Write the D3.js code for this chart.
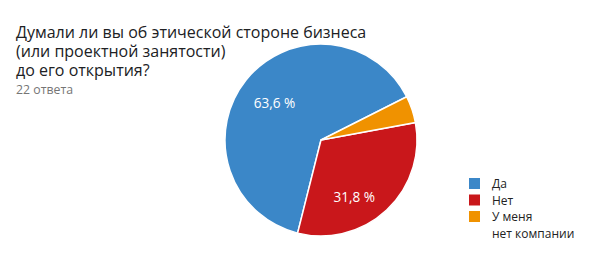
<!DOCTYPE html>
<html><head><meta charset="utf-8">
<script src="https://cdn.jsdelivr.net/npm/d3@7"></script>
<style>body{margin:0;background:#fff;font-family:"Open Sans","Noto Sans",sans-serif}</style>
</head><body>
<script>
const categories = ["Да", "Нет", "У меня нет компании"];
const counts = [14, 7, 1];
const labels = ["63,6 %", "31,8 %", ""];
const colors = ["#3b87c8", "#c9171b", "#f09200"];
const legendLines = [["Да"], ["Нет"], ["У меня", "нет компании"]];
const titleLines = ["Думали ли вы об этической стороне бизнеса", "(или проектной занятости)", "до его открытия?"];
const subtitle = "22 ответа";

const W = 591, H = 258;
const svg = d3.select("body").append("svg").attr("width", W).attr("height", H);
svg.append("rect").attr("width", W).attr("height", H).attr("fill", "#fff");

const t = svg.append("text").attr("x", 16).attr("y", 38)
  .attr("font-size", 16).attr("fill", "#202124");
t.selectAll("tspan").data(titleLines).join("tspan")
  .attr("x", 16).attr("dy", (d, i) => i === 0 ? 0 : 19).text(d => d);
svg.append("text").attr("x", 16).attr("y", 93.5).attr("font-size", 12.3).attr("fill", "#757575").text(subtitle);

const cx = 321, cy = 140, r = 96;
const start = 63.2 * Math.PI / 180;
const pie = d3.pie().sort(null).startAngle(start).endAngle(start - 2 * Math.PI);
const arcs = pie(counts);
const arc = d3.arc().innerRadius(0).outerRadius(r);
const g = svg.append("g").attr("transform", `translate(${cx},${cy})`);
g.selectAll("path").data(arcs).join("path")
  .attr("d", arc).attr("fill", (d, i) => colors[i])
  .attr("stroke", "#fff").attr("stroke-width", 1.5);

// label placement: mid-angle, nudged like the original renderer
const labelPos = (d, i) => {
  let a = (d.startAngle + d.endAngle) / 2;
  let rr = r * 0.62;
  if (i === 1) { a += 13 * Math.PI / 180; rr = r * 0.69; }
  return [rr * Math.sin(a), -rr * Math.cos(a)];
};
g.selectAll("text").data(arcs).join("text")
  .attr("transform", (d, i) => `translate(${labelPos(d, i)})`)
  .attr("text-anchor", "middle").attr("dy", "0.36em")
  .attr("font-size", 13.6).attr("fill", "#fff")
  .text((d, i) => labels[i]);

const leg = svg.append("g");
const rowY = [183.5, 200, 216.5];
categories.forEach((c, i) => {
  leg.append("rect").attr("x", 469).attr("y", rowY[i] - 5.5).attr("width", 11).attr("height", 11).attr("fill", colors[i]);
  const tx = leg.append("text").attr("x", 492).attr("y", rowY[i] + 4.5)
    .attr("font-size", 12).attr("fill", "#222");
  tx.selectAll("tspan").data(legendLines[i]).join("tspan")
    .attr("x", 492).attr("dy", (d, j) => j === 0 ? 0 : 16.5).text(d => d);
});
</script>
</body></html>
